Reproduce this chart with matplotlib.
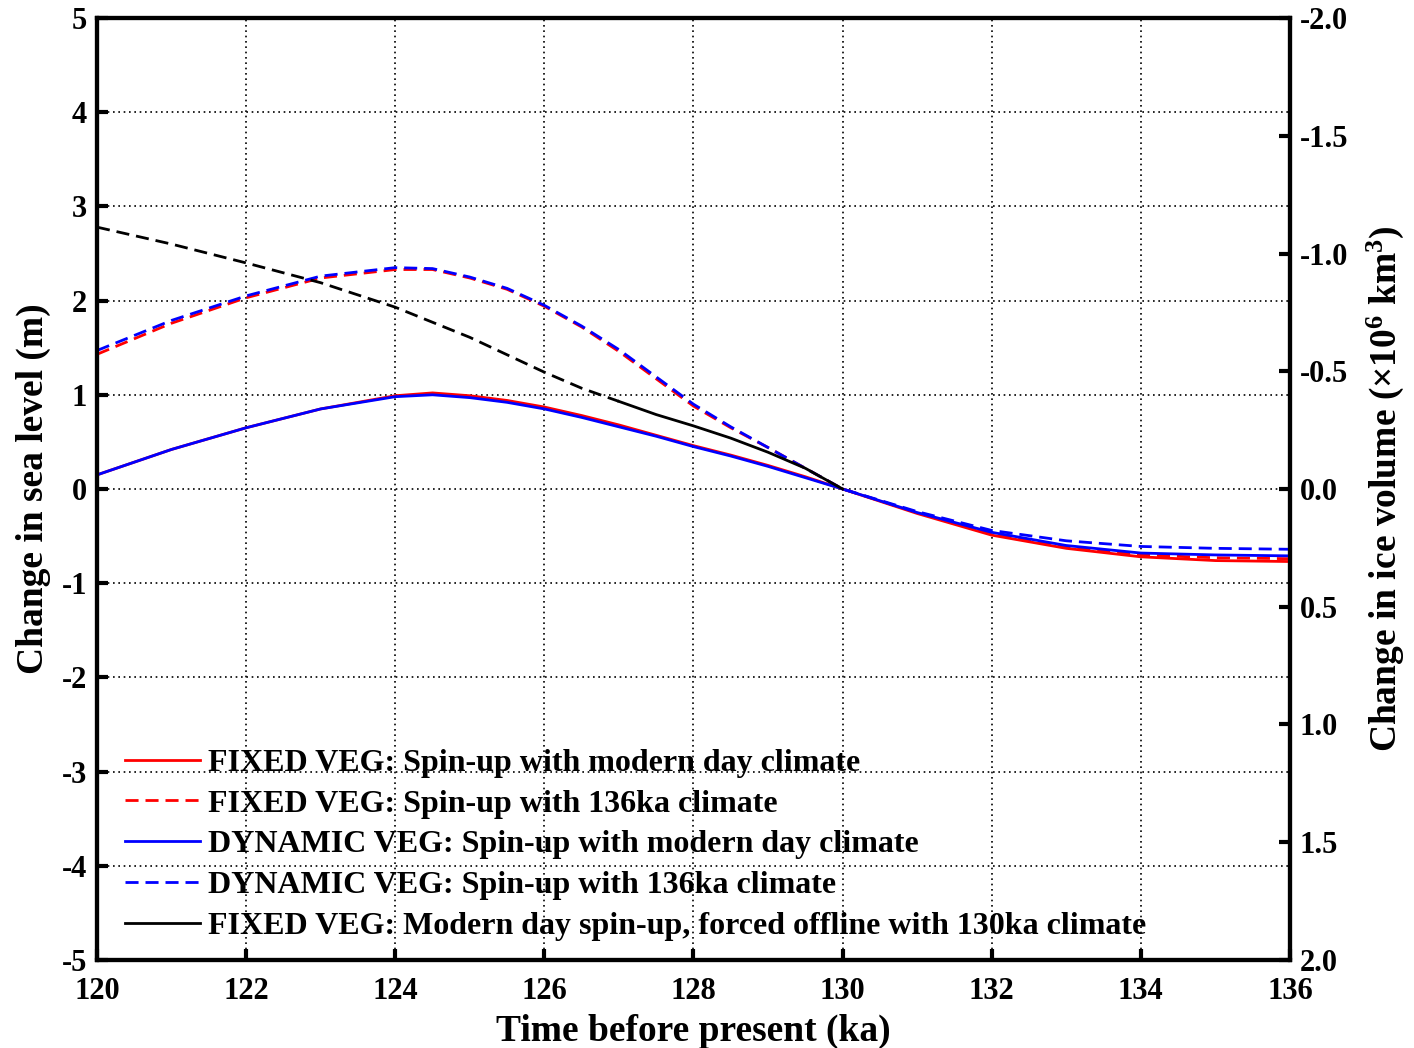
import matplotlib
matplotlib.use("Agg")
import matplotlib.pyplot as plt
import numpy as np

plt.rcParams['font.family'] = ['Liberation Serif', 'DejaVu Serif']
plt.rcParams['font.weight'] = 'bold'
plt.rcParams['axes.unicode_minus'] = False
plt.rcParams['mathtext.default'] = 'regular'

# ---------------- data ----------------
x = [120, 121, 122, 123, 124, 124.5, 125, 125.5, 126, 126.5, 127, 127.5, 128, 128.5, 129, 129.5,
     130, 131, 132, 133, 134, 135, 136]
fixed_modern = [0.15, 0.42, 0.65, 0.85, 0.99, 1.02, 0.99, 0.94, 0.87, 0.78, 0.68, 0.57, 0.46, 0.36, 0.25, 0.13,
                0.0, -0.26, -0.49, -0.63, -0.72, -0.76, -0.77]
fixed_136 = [1.43, 1.76, 2.03, 2.24, 2.33, 2.33, 2.24, 2.12, 1.94, 1.72, 1.46, 1.17, 0.88, 0.65, 0.44, 0.22,
             0.0, -0.25, -0.47, -0.62, -0.70, -0.73, -0.74]
dyn_modern = [0.15, 0.42, 0.65, 0.85, 0.98, 1.00, 0.97, 0.92, 0.85, 0.76, 0.66, 0.56, 0.45, 0.35, 0.24, 0.12,
              0.0, -0.25, -0.46, -0.60, -0.68, -0.70, -0.71]
dyn_136 = [1.47, 1.79, 2.05, 2.26, 2.35, 2.34, 2.25, 2.13, 1.95, 1.73, 1.48, 1.19, 0.90, 0.66, 0.44, 0.22,
           0.0, -0.24, -0.44, -0.55, -0.61, -0.63, -0.64]
black_x = [120, 121, 122, 123, 124, 125, 126, 126.5, 127, 127.5, 128, 128.5, 129, 129.5, 130]
black_y = [2.78, 2.60, 2.40, 2.19, 1.93, 1.61, 1.24, 1.07, 0.93, 0.79, 0.67, 0.54, 0.39, 0.22, 0.0]
black_split = 127  # dashed up to here, solid after

labels = ["FIXED VEG: Spin-up with modern day climate",
          "FIXED VEG: Spin-up with 136ka climate",
          "DYNAMIC VEG: Spin-up with modern day climate",
          "DYNAMIC VEG: Spin-up with 136ka climate",
          "FIXED VEG: Modern day spin-up, forced offline with 130ka climate"]

xticks = [120, 122, 124, 126, 128, 130, 132, 134, 136]
yticks = [-5, -4, -3, -2, -1, 0, 1, 2, 3, 4, 5]
rticks = [-2.0, -1.5, -1.0, -0.5, 0.0, 0.5, 1.0, 1.5, 2.0]

# ---------------- figure ----------------
fig = plt.figure(figsize=(14.14, 10.48), dpi=100)
ax = fig.add_axes([0.0686, 0.0840, 0.8437, 0.8988])

lw = 2.0
dash = (4.7, 2.5)
ax.plot(x, fixed_modern, color='red', lw=lw, label=labels[0], zorder=3)
l2, = ax.plot(x, fixed_136, color='red', lw=lw, ls='--', label=labels[1], zorder=3)
l2.set_dashes(dash)
ax.plot(x, dyn_modern, color='blue', lw=lw, label=labels[2], zorder=3)
l4, = ax.plot(x, dyn_136, color='blue', lw=lw, ls='--', label=labels[3], zorder=3)
l4.set_dashes(dash)
bx = np.array(black_x)
by = np.array(black_y)
m1 = bx <= black_split
m2 = bx >= black_split
l5a, = ax.plot(bx[m1], by[m1], color='black', lw=lw, ls='--', zorder=3)
l5a.set_dashes(dash)
ax.plot(bx[m2], by[m2], color='black', lw=lw, label=labels[4], zorder=3)

ax.set_xlim(120, 136)
ax.set_ylim(-5, 5)
ax.set_xticks(xticks)
ax.set_yticks(yticks)
ax.set_yticklabels([str(v) for v in yticks])
ax.grid(True, color='black', lw=1.2, ls=(0, (1, 2.2)))
ax.tick_params(direction='in', length=8, width=3, labelsize=22)
ax.tick_params(axis='x', pad=12)
ax.tick_params(axis='y', pad=7)
for s in ax.spines.values():
    s.set_linewidth(3)
ax.set_xlabel("Time before present (ka)", fontsize=27, fontweight='bold', labelpad=6)
ax.set_ylabel("Change in sea level (m)", fontsize=27, fontweight='bold', labelpad=8)

ax2 = ax.twinx()
ax2.set_ylim(2.0, -2.0)
ax2.set_yticks(rticks)
ax2.set_yticklabels([f"{v:.1f}" for v in rticks])
ax2.tick_params(direction='in', length=8, width=3, labelsize=22, pad=7)
for s in ax2.spines.values():
    s.set_linewidth(3)
ax2.set_ylabel("Change in ice volume (×10$^{6}$ km$^{3}$)", fontsize=27,
               fontweight='bold', labelpad=12)

leg = ax.legend(loc='lower left', bbox_to_anchor=(0.0235, 0.02), frameon=False,
                fontsize=23, handlelength=2.35, handletextpad=0.25,
                labelspacing=0.36, borderpad=0, borderaxespad=0)
leg.set_zorder(5)
for t in leg.get_texts():
    t.set_fontweight('bold')

fig.savefig("out.png", dpi=100)
